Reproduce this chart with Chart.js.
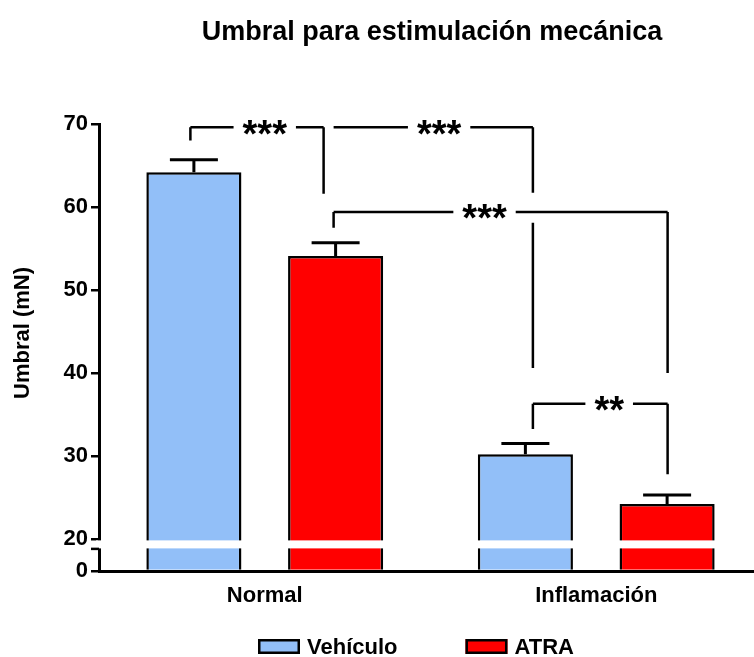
<!DOCTYPE html>
<html><head><meta charset="utf-8">
<script src="https://cdn.jsdelivr.net/npm/chart.js@4/dist/chart.umd.min.js"></script>
<style>html,body{margin:0;padding:0;background:#fff;overflow:hidden;width:754px;height:657px}canvas{display:block}</style>
</head><body>
<canvas id="c" width="762" height="657"></canvas>
<script>
// ---- data ----
const categories = ['Normal', 'Inflamación'];
const seriesNames = ['Vehículo', 'ATRA'];
const vehiculo = [64.2, 30.2];
const atra = [54.1, 24.2];
const vehiculoErr = [1.5, 1.3];
const atraErr = [1.6, 1.1];
const yTicks = [0, 20, 30, 40, 50, 60, 70];
const axisBreak = 20;
const titleText = 'Umbral para estimulación mecánica';
const yTitle = 'Umbral (mN)';
// significance brackets: bar = [category, dataset], segs = vertical leg segments (value ranges)
const brackets = [
  {label: '***', y: 69.6, textAt: 0.0,   left: {bar: [0, 0], dx: -3.5, segs: [[69.6, 68.0]]}, right: {bar: [0, 1], dx: -12, segs: [[69.6, 61.6]]}},
  {label: '***', y: 69.6, textAt: 0.526, left: {bar: [0, 1], dx: -2,   segs: []},             right: {bar: [1, 0], dx: 7.5, segs: [[69.6, 61.7], [58.1, 40.6]]}},
  {label: '***', y: 59.4, textAt: 0.663, left: {bar: [0, 1], dx: -2,   segs: [[59.4, 57.5]]}, right: {bar: [1, 1], dx: 0.5, segs: [[59.4, 40.0]]}},
  {label: '**',  y: 36.3, textAt: 1.039, left: {bar: [1, 0], dx: 7.5,  segs: [[36.3, 33.25]]}, right: {bar: [1, 1], dx: 0.5, segs: [[36.3, 27.8]]}}
];

const FONT = "'Liberation Sans', Arial, sans-serif";
const BLUE = '#92BFF8';
const RED = '#FF0000';

// ---- broken linear scale (compressed below the break) ----
const LOWER_SPAN = 3.87; // display units used by 0..axisBreak
class BrokenLinearScale extends Chart.LinearScale {
  _t(v) { return v >= axisBreak ? v : axisBreak - (axisBreak - v) * (LOWER_SPAN / axisBreak); }
  _ti(t) { return t >= axisBreak ? t : axisBreak - (axisBreak - t) * (axisBreak / LOWER_SPAN); }
  getPixelForValue(value) {
    if (value === null || value === undefined || isNaN(value)) return NaN;
    const t0 = this._t(this.min), t1 = this._t(this.max);
    return this.getPixelForDecimal((this._t(value) - t0) / (t1 - t0));
  }
  getValueForPixel(pixel) {
    const t0 = this._t(this.min), t1 = this._t(this.max);
    return this._ti(t0 + this.getDecimalForPixel(pixel) * (t1 - t0));
  }
}
BrokenLinearScale.id = 'brokenLinear';
BrokenLinearScale.defaults = Chart.LinearScale.defaults;
Chart.register(BrokenLinearScale);

const extras = {
  id: 'extras',
  afterDatasetsDraw(chart) {
    const ctx = chart.ctx, y = chart.scales.y, x = chart.scales.x, ca = chart.chartArea;
    ctx.save();
    // axis break band
    const pb = y.getPixelForValue(axisBreak);
    ctx.fillStyle = '#fff';
    ctx.fillRect(ca.left - 3, pb + 1.5, ca.right - ca.left + 6, 8);
    ctx.strokeStyle = '#000';
    ctx.lineWidth = 2.5;
    ctx.beginPath();
    ctx.moveTo(ca.left - 8, pb + 10); ctx.lineTo(ca.left, pb + 10);
    ctx.stroke();
    // error bars
    const errs = [vehiculoErr, atraErr];
    chart.data.datasets.forEach((ds, di) => {
      const meta = chart.getDatasetMeta(di);
      meta.data.forEach((bar, i) => {
        const top = y.getPixelForValue(ds.data[i]);
        const cap = y.getPixelForValue(ds.data[i] + errs[di][i]);
        ctx.lineWidth = 3;
        ctx.beginPath();
        ctx.moveTo(bar.x, top); ctx.lineTo(bar.x, cap);
        ctx.moveTo(bar.x - 24, cap); ctx.lineTo(bar.x + 24, cap);
        ctx.stroke();
      });
    });
    // brackets
    ctx.lineWidth = 2.5;
    ctx.font = 'bold 38px ' + FONT;
    ctx.fillStyle = '#000';
    ctx.textAlign = 'center';
    ctx.textBaseline = 'alphabetic';
    brackets.forEach(b => {
      const lx = chart.getDatasetMeta(b.left.bar[1]).data[b.left.bar[0]].x + b.left.dx;
      const rx = chart.getDatasetMeta(b.right.bar[1]).data[b.right.bar[0]].x + b.right.dx;
      const by = y.getPixelForValue(b.y);
      const tx = x.getPixelForValue(b.textAt);
      const m = ctx.measureText(b.label);
      const half = m.width / 2 + 9;
      ctx.beginPath();
      ctx.moveTo(lx, by); ctx.lineTo(tx - half, by);
      ctx.moveTo(tx + half, by); ctx.lineTo(rx, by);
      [[lx, b.left.segs], [rx, b.right.segs]].forEach(([px, segs]) => {
        segs.forEach(s => { ctx.moveTo(px, y.getPixelForValue(s[0])); ctx.lineTo(px, y.getPixelForValue(s[1])); });
      });
      ctx.stroke();
      ctx.fillText(b.label, tx, by + (m.actualBoundingBoxAscent - m.actualBoundingBoxDescent) / 2);
    });
    ctx.restore();
  },
  afterDraw(chart) {
    const ctx = chart.ctx;
    ctx.save();
    ctx.fillStyle = '#000';
    // title
    ctx.font = 'bold 27px ' + FONT;
    ctx.textAlign = 'center';
    ctx.textBaseline = 'middle';
    ctx.fillText(titleText, 432, 33);
    // y title
    ctx.font = 'bold 22px ' + FONT;
    ctx.save();
    ctx.translate(23, 333);
    ctx.rotate(-Math.PI / 2);
    ctx.fillText(yTitle, 0, 0);
    ctx.restore();
    // legend
    const colors = [BLUE, RED];
    let lx = 258;
    ctx.textAlign = 'left';
    seriesNames.forEach((name, i) => {
      ctx.fillStyle = colors[i];
      ctx.fillRect(lx, 639, 42, 15);
      ctx.strokeStyle = '#000';
      ctx.lineWidth = 2.5;
      ctx.strokeRect(lx + 1.25, 639 + 1.25, 42 - 2.5, 15 - 2.5);
      ctx.fillStyle = '#000';
      ctx.fillText(name, lx + 49, 648);
      lx += 49 + ctx.measureText(name).width + 68;
    });
    ctx.restore();
  }
};

new Chart(document.getElementById('c'), {
  type: 'bar',
  data: {
    labels: categories,
    datasets: [
      {label: seriesNames[0], data: vehiculo, backgroundColor: BLUE, borderColor: '#000', borderWidth: 2.5},
      {label: seriesNames[1], data: atra, backgroundColor: RED, borderColor: '#000', borderWidth: 2.5}
    ]
  },
  options: {
    responsive: false,
    devicePixelRatio: 1,
    animation: false,
    categoryPercentage: 0.855,
    barPercentage: 0.671,
    layout: {padding: {top: 124, right: 0, bottom: 0, left: 0}},
    plugins: {legend: {display: false}, title: {display: false}, tooltip: {enabled: false}},
    scales: {
      x: {
        type: 'category',
        offset: true,
        grid: {display: false, drawTicks: false},
        border: {display: true, color: '#000', width: 3},
        ticks: {color: '#000', padding: 12, font: {family: FONT, size: 22, weight: 'bold'}},
        afterFit: s => { s.height = 86; }
      },
      y: {
        type: 'brokenLinear',
        min: 0, max: 70,
        grid: {display: true, drawOnChartArea: false, drawTicks: true, tickLength: 8, color: '#000', lineWidth: 2.5},
        border: {display: true, color: '#000', width: 3},
        ticks: {color: '#000', padding: 3, font: {family: FONT, size: 22, weight: 'bold'}, callback: v => String(v)},
        afterBuildTicks: s => { s.ticks = yTicks.map(v => ({value: v})); },
        afterFit: s => { s.width = 99; }
      }
    }
  },
  plugins: [extras]
});
</script>
</body></html>
